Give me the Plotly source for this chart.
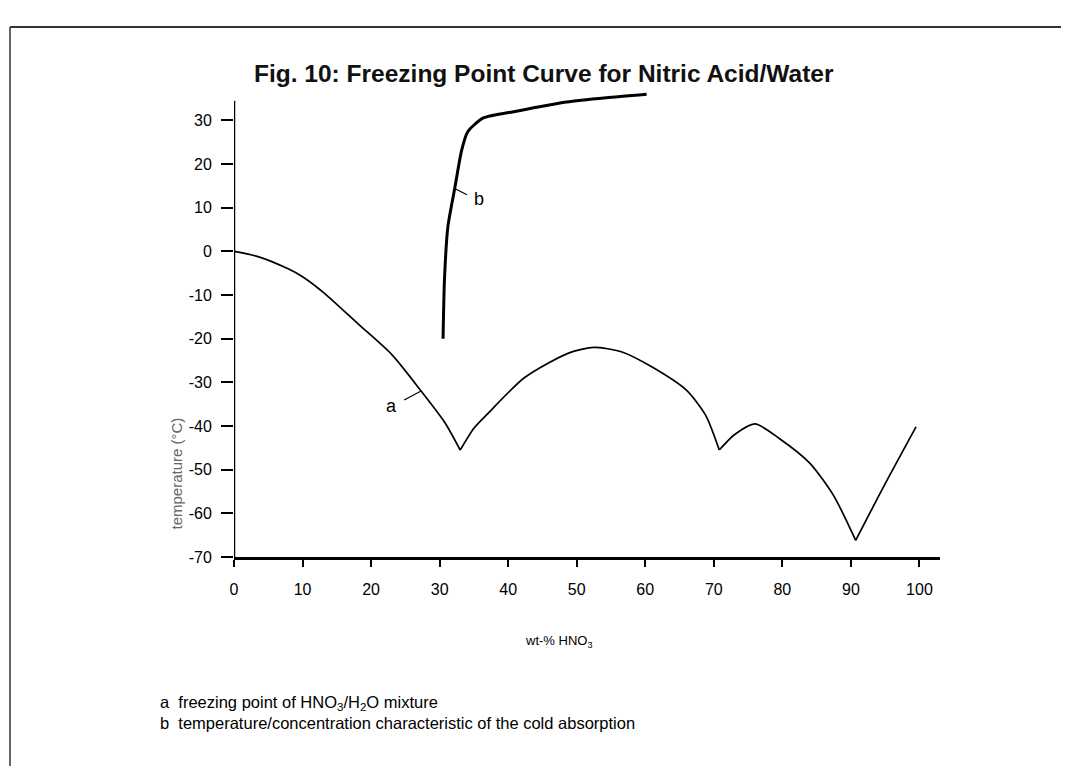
import plotly.graph_objects as go

# Curve a: freezing point of HNO3/H2O mixture
a_x = [0, 3.5, 7.9, 10, 13.2, 18.1, 23, 27.3, 30.8, 33, 35, 37, 42.4, 48.8, 52.5, 56.5, 61, 66, 68.8, 70.8, 73, 76, 79.6, 84, 87.5, 90.7, 94.7, 99.5]
a_y = [0, -1.2, -4, -5.8, -9.6, -16.6, -23.6, -32, -39.3, -45.5, -40.5, -37.2, -28.9, -23.3, -22, -23, -26.5, -31.8, -37.5, -45.5, -42, -39.5, -42.9, -48.5, -56, -66.2, -54.1, -40.2]
# cusps (eutectic points) of curve a, as x-values
a_cusps = [33, 70.8, 90.7]

# Curve b: temperature/concentration characteristic of the cold absorption
b_x = [30.5, 30.7, 31.2, 32.2, 33.2, 34.1, 36.3, 41.2, 48.5, 54.3, 60.2]
b_y = [-20, -6.7, 5.6, 14.4, 23.1, 27.4, 30.5, 32.1, 34.2, 35.2, 36]

x_ticks = [0, 10, 20, 30, 40, 50, 60, 70, 80, 90, 100]
y_ticks = [30, 20, 10, 0, -10, -20, -30, -40, -50, -60, -70]
y_axis_top = 34.5

W, H = 1069, 766
L, R = 226, 932
T, B = 84, 549
pw, ph = R - L, B - T

def px(x):
    return (x - L) / pw

def py(y):
    return (B - y) / ph

FONT = "Liberation Sans, Arial, sans-serif"

fig = go.Figure()

# split curve a at its cusps so each branch is smooth but the cusps stay sharp
cut_idx = [0] + [a_x.index(c) for c in a_cusps] + [len(a_x) - 1]
for i0, i1 in zip(cut_idx[:-1], cut_idx[1:]):
    fig.add_trace(go.Scatter(x=a_x[i0:i1 + 1], y=a_y[i0:i1 + 1], mode="lines",
                             line=dict(color="black", width=1.7, shape="spline", smoothing=0.7),
                             showlegend=False, hoverinfo="skip"))
fig.add_trace(go.Scatter(x=b_x, y=b_y, mode="lines", line=dict(color="black", width=3, shape="spline", smoothing=0.6),
                         showlegend=False, hoverinfo="skip"))

annotations = [
    dict(x=27.3, y=-32, ax=24.6, ay=-34.2, xref="x", yref="y", axref="x", ayref="y",
         showarrow=True, arrowhead=0, arrowwidth=1.2, arrowcolor="black", text="", standoff=0),
    dict(x=23.0, y=-35.4, xref="x", yref="y", text="a", showarrow=False,
         font=dict(family=FONT, size=18, color="black")),
    dict(x=32.2, y=14.4, ax=34.2, ay=12.8, xref="x", yref="y", axref="x", ayref="y",
         showarrow=True, arrowhead=0, arrowwidth=1.2, arrowcolor="black", text="", standoff=0),
    dict(x=35.7, y=12.0, xref="x", yref="y", text="b", showarrow=False,
         font=dict(family=FONT, size=18, color="black")),
    dict(x=px(536), y=py(50), xref="paper", yref="paper", showarrow=False,
         text="<b>Fig. 10: Freezing Point Curve for Nitric Acid/Water</b>",
         font=dict(family=FONT, size=24.5, color="#111")),
    dict(x=px(550), y=py(644), xref="paper", yref="paper", showarrow=False,
         text="wt-% HNO<sub>3</sub>", font=dict(family=FONT, size=13, color="black")),
    dict(x=px(158), y=-51, xref="paper", yref="y", showarrow=False, textangle=-90,
         text="temperature (°C)", font=dict(family=FONT, size=15, color="#666")),
    dict(x=px(150), y=py(707), xref="paper", yref="paper", showarrow=False, xanchor="left",
         text="a  freezing point of HNO<sub>3</sub>/H<sub>2</sub>O mixture",
         font=dict(family=FONT, size=16.5, color="black")),
    dict(x=px(150), y=py(726), xref="paper", yref="paper", showarrow=False, xanchor="left",
         text="b  temperature/concentration characteristic of the cold absorption",
         font=dict(family=FONT, size=16.5, color="black")),
]

shapes = [
    dict(type="line", xref="paper", yref="paper", x0=px(2), x1=px(2), y0=py(19), y1=py(766),
         line=dict(color="#333", width=1.5)),
    dict(type="line", xref="paper", yref="paper", x0=px(2), x1=px(1069), y0=py(19), y1=py(19),
         line=dict(color="#333", width=2)),
    dict(type="line", xref="x", yref="y", x0=0, x1=0, y0=-70, y1=y_axis_top,
         line=dict(color="black", width=2.5)),
]

fig.update_layout(
    width=W, height=H,
    margin=dict(l=L, r=W - R, t=T, b=H - B),
    paper_bgcolor="white", plot_bgcolor="white",
    annotations=annotations, shapes=shapes,
    font=dict(family=FONT, size=15, color="black"),
)
fig.update_xaxes(range=[0, 103], tickvals=x_ticks, ticktext=[str(v) for v in x_ticks],
                 showgrid=False, zeroline=False, showline=True, linecolor="black", linewidth=2.5,
                 ticks="outside", ticklen=7, tickwidth=1.5, tickcolor="black",
                 tickfont=dict(family=FONT, size=16, color="black"), ticklabelstandoff=9)
fig.update_yaxes(range=[-70, 36.5], tickvals=y_ticks, ticktext=[str(v) for v in y_ticks],
                 showgrid=False, zeroline=False, showline=False,
                 ticks="outside", ticklen=12, tickwidth=2, tickcolor="black",
                 tickfont=dict(family=FONT, size=16, color="black"), ticklabelstandoff=6)

fig.write_html("out.html")
